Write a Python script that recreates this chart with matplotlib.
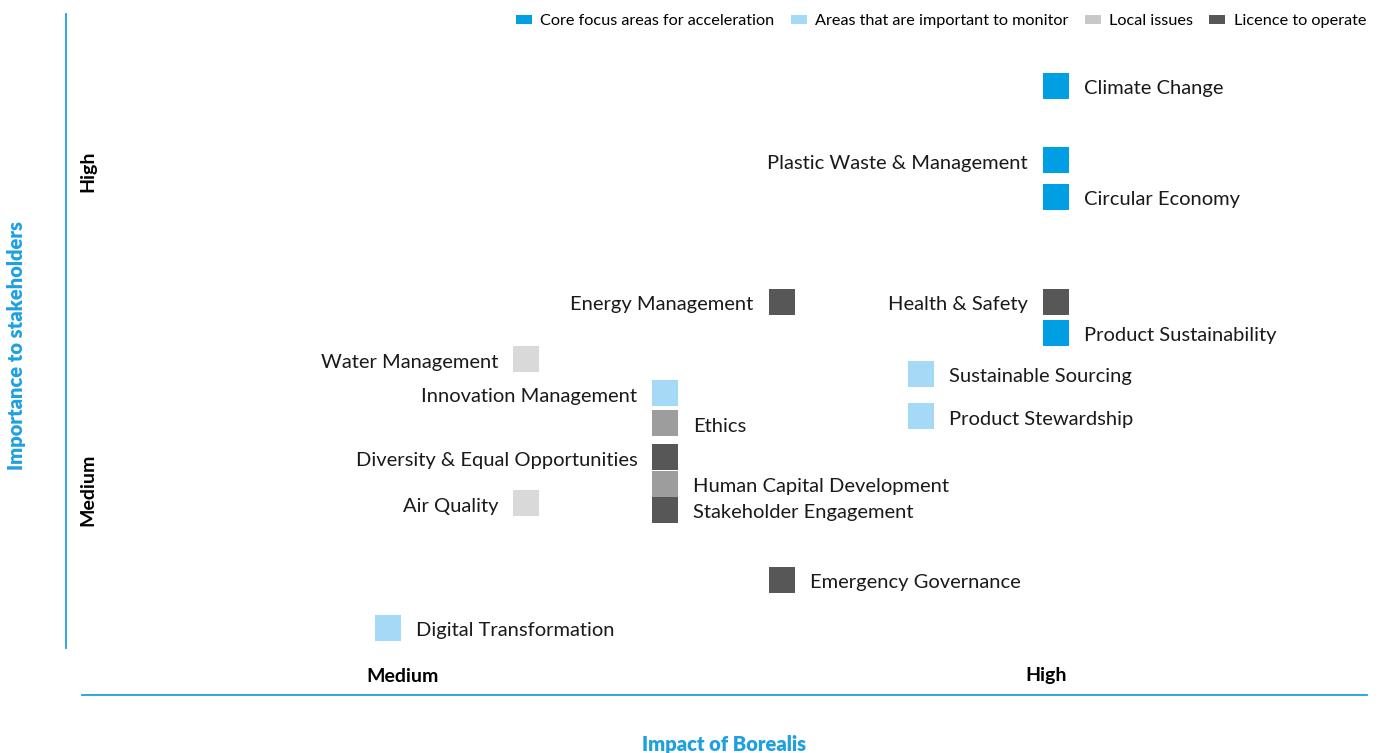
import matplotlib
matplotlib.use("Agg")
import matplotlib.pyplot as plt
from matplotlib.patches import Patch
from matplotlib.lines import Line2D

plt.rcParams['font.family'] = ['Lato', 'DejaVu Sans']

# Materiality topics: impact of Borealis (x) vs importance to stakeholders (y)
# scale: 1 = Medium, 2 = High
topics = ["Climate Change", "Plastic Waste & Management", "Circular Economy",
          "Energy Management", "Health & Safety", "Product Sustainability",
          "Water Management", "Sustainable Sourcing", "Innovation Management",
          "Product Stewardship", "Ethics", "Diversity & Equal Opportunities",
          "Human Capital Development", "Stakeholder Engagement", "Air Quality",
          "Emergency Governance", "Digital Transformation"]
impact = [2.015, 2.015, 2.015,
          1.589, 2.015, 2.015,
          1.192, 1.806, 1.408,
          1.806, 1.408, 1.408,
          1.408, 1.408, 1.192,
          1.589, 0.977]
importance = [2.264, 2.031, 1.917,
              1.588, 1.588, 1.491,
              1.408, 1.363, 1.303,
              1.231, 1.209, 1.103,
              1.019, 0.938, 0.959,
              0.719, 0.569]
category = ["core", "core", "core",
            "licence", "licence", "core",
            "local", "monitor", "monitor",
            "monitor", "other", "licence",
            "other", "licence", "local",
            "licence", "monitor"]
label_side = ["right", "left", "right",
              "left", "left", "right",
              "left", "right", "left",
              "right", "right", "left",
              "right", "right", "left",
              "right", "right"]

colors = {"core": "#009fe3", "monitor": "#a5daf7", "local": "#d9d9d9",
          "licence": "#575757", "other": "#9d9d9d"}
legend_names = [("core", "Core focus areas for acceleration"),
                ("monitor", "Areas that are important to monitor"),
                ("local_leg", "Local issues"),
                ("licence", "Licence to operate")]
legend_colors = {"core": "#009fe3", "monitor": "#a5daf7",
                 "local_leg": "#c8c8c8", "licence": "#575757"}

W, H = 1381, 753
blue = "#1ea0e0"

fig = plt.figure(figsize=(W / 100, H / 100), dpi=100)
ax = fig.add_axes([0, 0, 1, 1])
ax.set_xlim(1 - 403 / 643, 1 + (W - 403) / 643)
ax.set_ylim(1 - (H - 490) / 320, 1 + 490 / 320)
ax.axis("off")

sq = 27 * 0.72
for t, x, y, c, side in zip(topics, impact, importance, category, label_side):
    ax.scatter([x], [y], marker="s", s=sq ** 2, color=colors[c], linewidths=0, zorder=3)
    dx = 28 if side == "right" else -28
    ax.annotate(t, (x, y), xytext=(dx, -3), textcoords="offset pixels",
                ha="left" if side == "right" else "right", va="center",
                fontsize=14.5, color="#1a1a1a")

# axis lines
fig.add_artist(Line2D([66 / W, 66 / W], [1 - 14 / H, 1 - 648 / H], color=blue, lw=1.3))
fig.add_artist(Line2D([82 / W, 1367 / W], [1 - 695 / H, 1 - 695 / H], color=blue, lw=1.3))

# level labels
fig.text(403 / W, 1 - 676 / H, "Medium", ha="center", va="center", fontsize=14, fontweight="bold")
fig.text(1046 / W, 1 - 676 / H, "High", ha="center", va="center", fontsize=14, fontweight="bold")
fig.text(88 / W, 1 - 171 / H, "High", ha="center", va="center", fontsize=14,
         fontweight="bold", rotation=90)
fig.text(88 / W, 1 - 490 / H, "Medium", ha="center", va="center", fontsize=14,
         fontweight="bold", rotation=90)

fig.text(724 / W, 1 - 744 / H, "Impact of Borealis", ha="center", va="center",
         fontsize=14.5, fontweight="heavy", color=blue)
fig.text(17 / W, 1 - 345 / H, "Importance to stakeholders", ha="center", va="center",
         fontsize=14.5, fontweight="heavy", color=blue, rotation=90)

handles = [Patch(facecolor=legend_colors[k], edgecolor="none", label=n) for k, n in legend_names]
fig.legend(handles=handles, loc="center right", bbox_to_anchor=(1366 / W, 1 - 21 / H),
           ncol=4, frameon=False, fontsize=11.7, handlelength=1.0, handleheight=0.45,
           handletextpad=0.5, columnspacing=1.0, borderpad=0, borderaxespad=0)

fig.savefig("out.png", dpi=100)
